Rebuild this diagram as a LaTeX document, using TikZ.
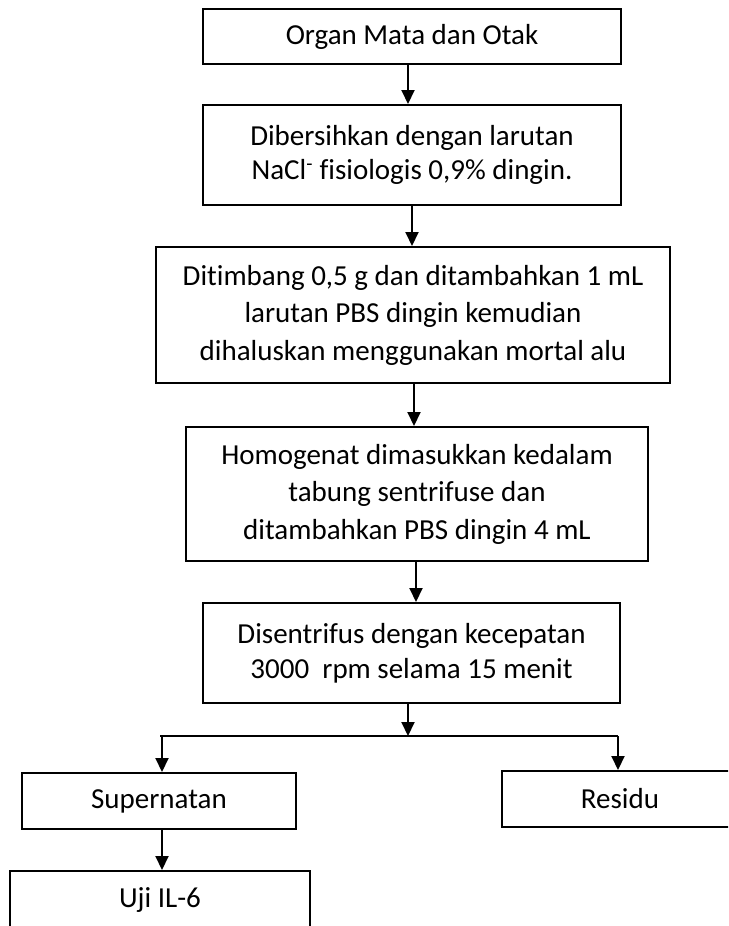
\documentclass[tikz,border=0pt]{standalone}
\usepackage{fontspec}
\setmainfont{Carlito}[Ligatures=NoCommon]
\usetikzlibrary{arrows.meta}
\begin{document}
\begin{tikzpicture}[x=1pt,y=-1pt,
  stepbox/.style={draw, line width=2pt, rectangle, inner sep=0pt, align=center,
                  font=\fontsize{29}{36}\selectfont},
  flow/.style={line width=2pt, -{Triangle[length=14pt,width=13pt]}},
  rail/.style={line width=2pt},
]
\clip (0,0) rectangle (728,926);

% process steps
\node[stepbox, minimum width=418pt, minimum height=55pt] (organ) at (412,36.5)
  {Organ Mata dan Otak};
\node[stepbox, minimum width=418pt, minimum height=100pt,
      font=\fontsize{29}{34}\selectfont] (clean) at (412,155)
  {Dibersihkan dengan larutan\\NaCl\textsuperscript{-} fisiologis 0,9\% dingin.};
\node[stepbox, minimum width=514pt, minimum height=136pt,
      font=\fontsize{29}{37.5}\selectfont] (weigh) at (413,315)
  {Ditimbang 0,5 g dan ditambahkan 1 mL\\larutan PBS dingin kemudian\\dihaluskan menggunakan mortal alu};
\node[stepbox, minimum width=462pt, minimum height=134pt,
      font=\fontsize{29}{37.5}\selectfont] (homog) at (417,494)
  {Homogenat dimasukkan kedalam\\tabung sentrifuse dan\\ditambahkan PBS dingin 4 mL};
\node[stepbox, minimum width=417pt, minimum height=100pt,
      font=\fontsize{29}{35}\selectfont] (spin) at (411.5,653)
  {Disentrifus dengan kecepatan\\3000\ \ rpm selama 15 menit};

% results of centrifugation
\node[stepbox, minimum width=274pt, minimum height=56pt] (sup) at (159,801) {Supernatan};
\node[stepbox, minimum width=236pt, minimum height=56pt] (res) at (620,799) {Residu};
\node[stepbox, minimum width=300pt, minimum height=57pt] (uji) at (160,899.5) {Uji IL-6};

% branch rail
\coordinate (jL) at (162,736);
\coordinate (jR) at (618,736);
\draw[rail] (160,736) -- (jR);

% connectors
\draw[flow] ([xshift=-4pt]organ.south) -- ([xshift=-4pt]organ.south |- clean.north);
\draw[flow] (clean.south) -- (clean.south |- weigh.north);
\draw[flow] ([xshift=1pt]weigh.south) -- ([xshift=1pt]weigh.south |- homog.north);
\draw[flow] ([xshift=-1pt]homog.south) -- ([xshift=-1pt]homog.south |- spin.north);
\draw[flow] ([xshift=-3.5pt]spin.south) -- ([xshift=-3.5pt]spin.south |- jL);
\draw[flow] (jL) -- (jL |- sup.north);
\draw[flow] (jR) -- (jR |- res.north);
\draw[flow] ([xshift=3pt]sup.south) -- ([xshift=3pt]sup.south |- uji.north);
\end{tikzpicture}
\end{document}
